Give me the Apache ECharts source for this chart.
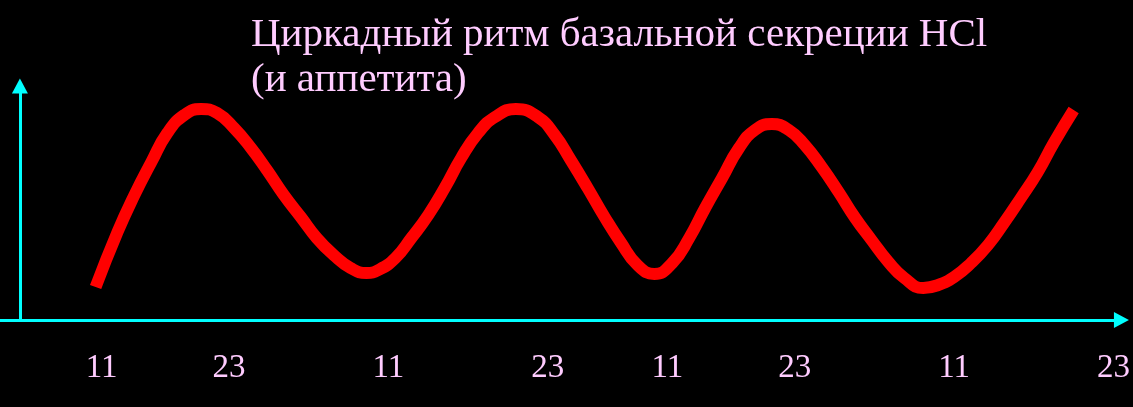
<!DOCTYPE html>
<html>
<head>
<meta charset="utf-8">
<title>Циркадный ритм</title>
<script src="https://cdn.jsdelivr.net/npm/echarts@6/dist/echarts.min.js"></script>
<style>
  html, body { margin: 0; padding: 0; background: #000; }
  #main { width: 1133px; height: 407px; }
</style>
</head>
<body>
<div id="main"></div>
<script>
// curve (x along the time axis, y = secretion level, arbitrary units)
var curveX = [76, 98, 115, 132, 148, 165, 182, 198, 215, 232, 248, 265, 282, 298, 315, 332, 348,
  360, 377, 393, 410, 427, 443, 460, 477, 498, 520, 537, 553, 570, 587, 603, 620, 637,
  655, 672, 688, 705, 722, 738, 755, 772, 788, 805, 822, 838, 855, 872, 888, 907,
  922, 938, 955, 972, 988, 1005, 1022, 1038, 1058];
var curveY = [33, 88, 125, 158, 187, 205, 211, 207, 192, 172, 150, 125, 103, 82, 65, 52, 47,
  50, 62, 82, 105, 133, 162, 187, 203, 211, 203, 185, 160, 132, 103, 78, 55, 46,
  57, 82, 112, 142, 172, 190, 196, 190, 175, 153, 128, 103, 80, 58, 42, 32,
  35, 43, 57, 75, 97, 122, 148, 177, 210];

// time-of-day labels along the x axis
var tickPos = [82, 210, 370, 530, 650, 778, 938, 1098];
var tickLabels = ['11', '23', '11', '23', '11', '23', '11', '23'];

var titleText = 'Циркадный ритм базальной секреции HCl\n(и аппетита)';

var chart = echarts.init(document.getElementById('main'));

var points = curveX.map(function (x, i) {
  return [x, curveY[i]];
});

var option = {
  backgroundColor: '#000',
  animation: false,
  title: {
    text: titleText,
    left: 246,
    top: 8,
    textStyle: {
      color: '#ffccff',
      fontFamily: 'Liberation Serif',
      fontWeight: 'normal',
      fontSize: 41,
      lineHeight: 45
    }
  },
  grid: {
    left: 0,
    right: 7,
    top: 86,
    bottom: 87
  },
  xAxis: {
    type: 'value',
    min: -20,
    max: 1106,
    splitLine: { show: false },
    axisTick: { show: false },
    axisLine: {
      show: true,
      symbol: ['none', 'triangle'],
      symbolSize: [16, 15],
      lineStyle: { color: '#00ffff', width: 3 }
    },
    axisLabel: {
      customValues: tickPos,
      margin: 32,
      color: '#ffccff',
      fontFamily: 'Liberation Serif',
      fontSize: 33,
      formatter: function (v) {
        var i = tickPos.indexOf(v);
        return i >= 0 ? tickLabels[i] : '';
      }
    }
  },
  yAxis: {
    type: 'value',
    min: 0,
    max: 234,
    splitLine: { show: false },
    axisTick: { show: false },
    axisLabel: { show: false },
    axisLine: {
      show: true,
      onZero: true,
      symbol: ['none', 'triangle'],
      symbolSize: [16, 15],
      lineStyle: { color: '#00ffff', width: 3 }
    }
  },
  series: [
    {
      type: 'line',
      data: points,
      smooth: 0.5,
      showSymbol: false,
      lineStyle: {
        color: '#ff0000',
        width: 12,
        cap: 'butt'
      }
    }
  ]
};

chart.setOption(option);
</script>
</body>
</html>
